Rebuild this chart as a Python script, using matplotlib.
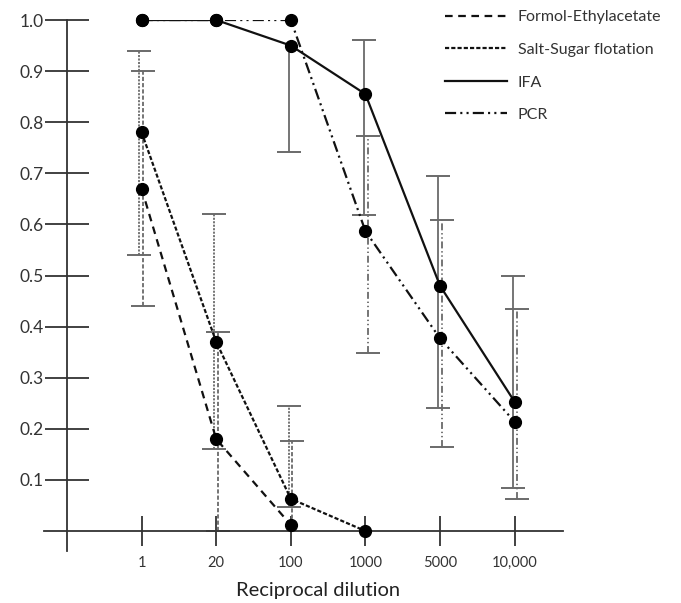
import numpy as np
import matplotlib
matplotlib.use("Agg")
import matplotlib.pyplot as plt

plt.rcParams['font.family'] = ['Lato', 'DejaVu Sans']
plt.rcParams['lines.scale_dashes'] = False

nan = np.nan

# categories on the x axis
dilutions = ['1', '20', '100', '1000', '5000', '10,000']
y_ticks = [0.1, 0.2, 0.3, 0.4, 0.5, 0.6, 0.7, 0.8, 0.9, 1.0]

# series values, with error bar ends (nan = none)
formol = [0.67, 0.18, 0.012]
formol_lo = [0.44, 0.0, nan]
formol_hi = [0.90, 0.39, 0.176]

salt = [0.78, 0.37, 0.063, 0.0]
salt_lo = [0.54, 0.16, 0.047, nan]
salt_hi = [0.94, 0.62, 0.245, nan]

ifa = [1.0, 1.0, 0.95, 0.855, 0.48, 0.253]
ifa_lo = [nan, nan, 0.742, 0.618, 0.241, 0.085]
ifa_hi = [nan, nan, nan, 0.96, 0.695, 0.50]

pcr = [1.0, 1.0, 1.0, 0.587, 0.377, 0.214]
pcr_lo = [nan, nan, nan, 0.349, 0.165, 0.063]
pcr_hi = [nan, nan, nan, 0.774, 0.609, 0.435]

# line styles
ls_formol = (0, (5.5, 4))
ls_salt = (0, (3, 1.5))
ls_ifa = 'solid'
ls_pcr = (0, (8, 3, 1.5, 3, 1.5, 3))

series = [
    ('Formol-Ethylacetate', formol, formol_lo, formol_hi, ls_formol, (0, (3, 1.5)), 0.02),
    ('Salt-Sugar flotation', salt, salt_lo, salt_hi, ls_salt, (0, (1.5, 1)), -0.03),
    ('IFA', ifa, ifa_lo, ifa_hi, ls_ifa, 'solid', -0.02),
    ('PCR', pcr, pcr_lo, pcr_hi, ls_pcr, (0, (5, 2, 1, 2, 1, 2)), 0.03),
]

fig = plt.figure(figsize=(6.81, 6.03), dpi=100)
ax = fig.add_axes([0.0601, 0.0770, 0.7722, 0.8898])
ax.set_xlim(-0.35, 6.7)
ax.set_ylim(-0.05, 1.0)

err_color = '#6a6a6a'
for name, vals, lo, hi, ls, els, off in series:
    x = np.arange(1, len(vals) + 1)
    vals = np.array(vals)
    lo = np.array(lo)
    hi = np.array(hi)
    xe = x + off
    bottom = np.where(np.isnan(lo), vals, lo)
    top = np.where(np.isnan(hi), vals, hi)
    ax.vlines(xe, bottom, top, colors=err_color, linestyles=[els], linewidth=1.3, zorder=2)
    ax.plot(xe, lo, linestyle='none', marker='_', markersize=17, markeredgewidth=1.4,
            color=err_color, zorder=2)
    ax.plot(xe, hi, linestyle='none', marker='_', markersize=17, markeredgewidth=1.4,
            color=err_color, zorder=2)

for name, vals, lo, hi, ls, els, off in series:
    x = np.arange(1, len(vals) + 1)
    ax.plot(x, vals, color='#111111', linestyle=ls, linewidth=1.6, zorder=3, label=name)
    ax.plot(x, vals, linestyle='none', marker='o', markersize=8.5, color='black',
            zorder=4, clip_on=False)

for side in ['top', 'right']:
    ax.spines[side].set_visible(False)
ax.spines['left'].set_position(('data', 0))
ax.spines['bottom'].set_position(('data', 0))
ax.spines['left'].set_bounds(-0.04, 1.0)
ax.spines['bottom'].set_bounds(-0.31, 6.65)
for side in ['left', 'bottom']:
    ax.spines[side].set_color('#333333')
    ax.spines[side].set_linewidth(1.3)
    ax.spines[side].set_zorder(2.5)

ax.set_yticks(y_ticks)
ax.set_yticklabels(['%.1f' % t for t in y_ticks], fontsize=12.5, color='#333333')
ax.set_xticks(np.arange(1, len(dilutions) + 1))
ax.set_xticklabels(dilutions, fontsize=10.5, color='#333333')
ax.tick_params(axis='y', direction='inout', length=31, width=1.3, color='#333333', pad=1.5)
ax.tick_params(axis='x', direction='inout', length=22, width=1.3, color='#333333', pad=7)

ax.set_xlabel('Reciprocal dilution', fontsize=14.5, color='#222222')
ax.xaxis.set_label_coords(0.527, -0.0625)
ax.xaxis.label.set_va('center')

leg = ax.legend(loc='upper left', bbox_to_anchor=(0.6535, 0.983), bbox_transform=fig.transFigure,
                frameon=False, fontsize=11.5, handlelength=3.9, handletextpad=0.65,
                labelspacing=1.15, borderpad=0, borderaxespad=0)
for t in leg.get_texts():
    t.set_color('#333333')

fig.savefig('out.png', dpi=100)
